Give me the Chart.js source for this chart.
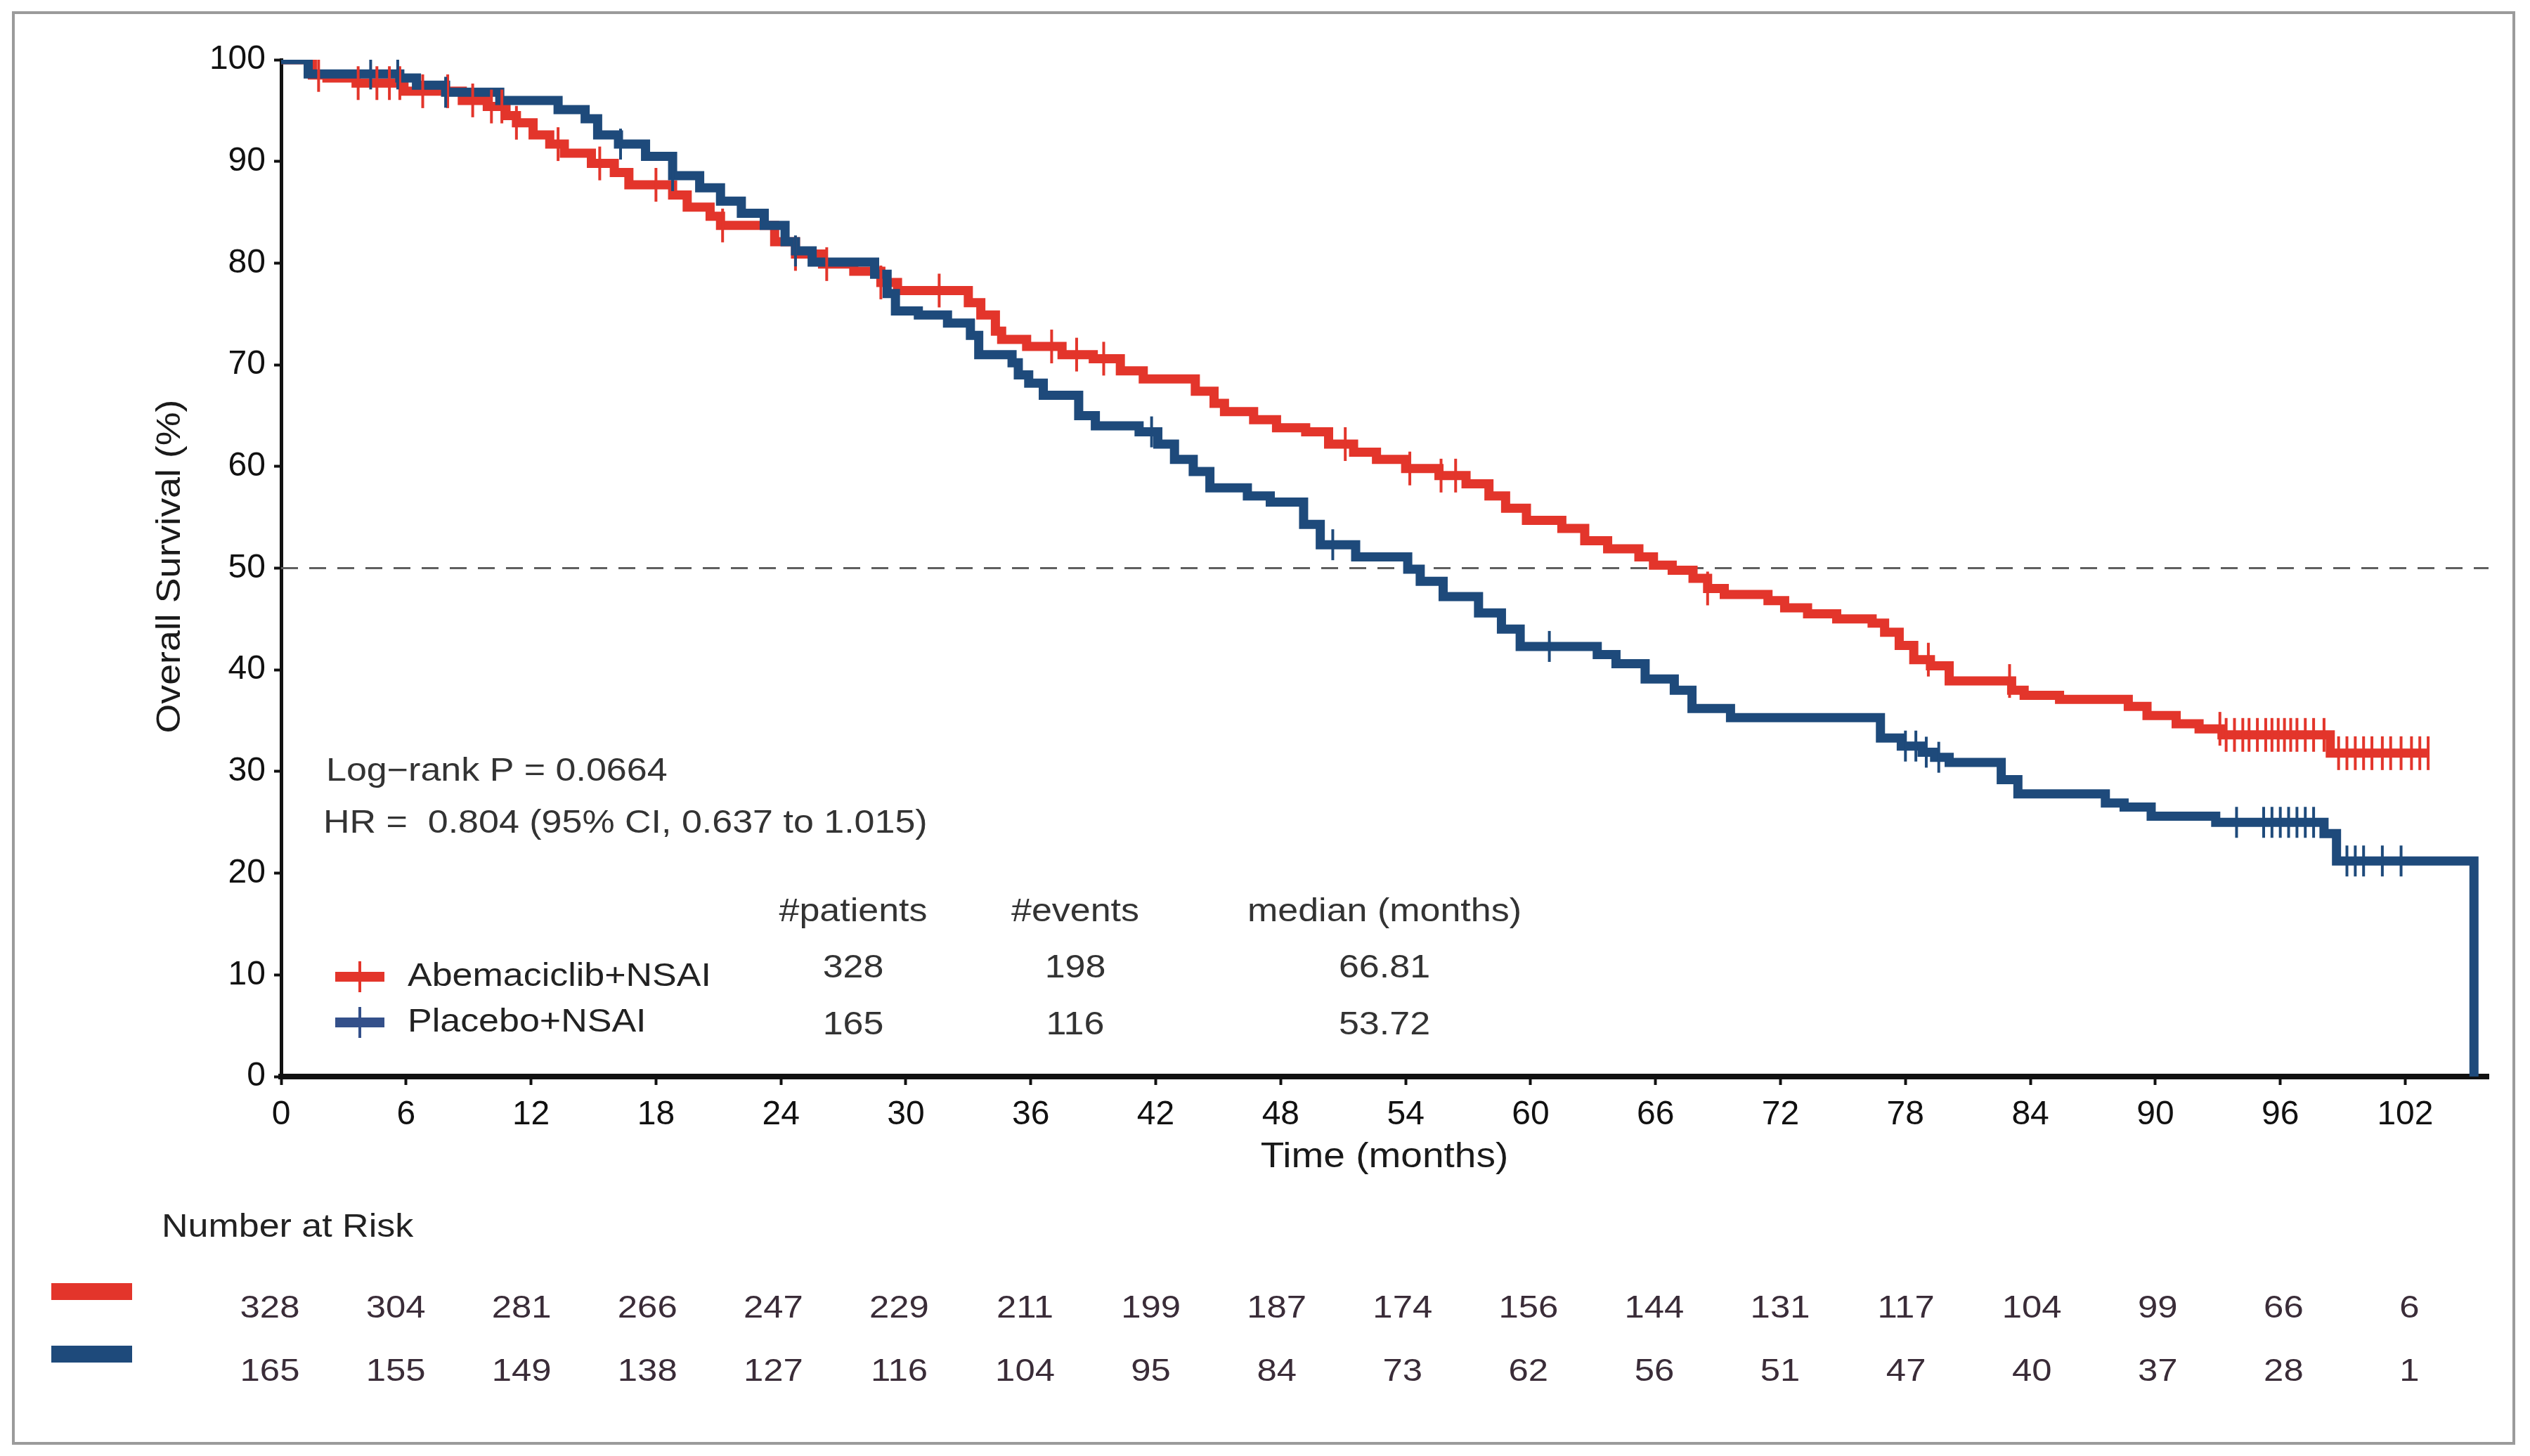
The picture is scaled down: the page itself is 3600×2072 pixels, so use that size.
<!DOCTYPE html>
<html>
<head>
<meta charset="utf-8">
<script src="https://cdn.jsdelivr.net/npm/chart.js@4.4.0/dist/chart.umd.min.js"></script>
<style>
  html, body { margin: 0; padding: 0; background: #fff; }
  #wrap { width: 3600px; height: 2072px; position: relative; }
</style>
</head>
<body>
<div id="wrap"><canvas id="km"></canvas></div>
<script>
// x axis ticks (months) and y axis ticks (%)
const xTicks = [0, 6, 12, 18, 24, 30, 36, 42, 48, 54, 60, 66, 72, 78, 84, 90, 96, 102];
const yTicks = [0, 10, 20, 30, 40, 50, 60, 70, 80, 90, 100];

// Abemaciclib+NSAI: step times and survival after each step
const abemaTime = [0, 1.5, 2.2, 3.6, 5.9, 8.7, 9.9, 10.8, 11.3, 12.1, 12.9, 13.6, 14.9, 16.0, 16.7, 18.8, 19.5, 20.6, 21.1, 23.7,
  24.7, 26.0, 27.5, 28.8, 29.6, 33.0, 33.6, 34.3, 34.6, 35.8, 37.5, 39.0, 40.3, 41.4, 43.9, 44.8, 45.3, 46.7, 47.8, 49.2,
  50.3, 51.5, 52.6, 54.0, 55.6, 56.9, 58.0, 58.8, 59.8, 61.5, 62.6, 63.7, 65.2, 65.9, 66.8, 67.8, 68.5, 69.3, 71.4, 72.2,
  73.3, 74.7, 76.4, 77.0, 77.7, 78.4, 79.2, 80.1, 83.1, 83.7, 85.4, 88.7, 89.6, 91.0, 92.1, 93.2, 98.4, 103.1];
const abemaSurv = [100, 98.5, 98.2, 97.7, 96.9, 96.0, 95.4, 94.5, 93.8, 92.6, 91.7, 90.8, 89.8, 88.9, 87.7, 86.7, 85.5, 84.6, 83.7, 82.1,
  80.9, 79.9, 79.2, 78.1, 77.3, 76.1, 74.9, 73.3, 72.5, 71.8, 71.0, 70.6, 69.4, 68.6, 67.4, 66.2, 65.4, 64.6, 63.8, 63.4,
  62.2, 61.4, 60.7, 59.8, 59.1, 58.3, 57.1, 55.9, 54.7, 53.9, 52.7, 51.9, 51.1, 50.3, 49.8, 49.0, 48.0, 47.4, 46.8, 46.1,
  45.5, 45.0, 44.6, 43.7, 42.4, 41.0, 40.4, 38.9, 38.0, 37.5, 37.1, 36.4, 35.5, 34.7, 34.2, 33.6, 31.8, 31.8];
const abemaCensor = [1.8, 3.7, 4.6, 5.2, 5.7, 6.8, 8.0, 9.2, 10.1, 10.6, 11.3, 13.3, 15.3, 18.0, 21.2, 24.7, 26.2, 28.8, 31.6,
  37.0, 38.2, 39.5, 51.1, 54.2, 55.7, 56.4, 68.5, 79.1, 83.0, 93.1, 93.4, 93.8, 94.2, 94.5, 94.9, 95.3, 95.6, 95.9, 96.2,
  96.5, 96.8, 97.2, 97.6, 98.1, 98.8, 99.2, 99.6, 100.0, 100.4, 100.9, 101.3, 101.8, 102.3, 102.7, 103.1];

// Placebo+NSAI
const placeboTime = [0, 1.3, 5.7, 6.5, 7.9, 10.5, 13.3, 14.6, 15.2, 16.2, 17.5, 18.8, 20.1, 21.1, 22.1, 23.2, 24.2, 24.7, 25.5, 28.5,
  29.1, 29.5, 30.6, 32.0, 33.1, 33.5, 35.1, 35.4, 35.9, 36.6, 38.3, 39.1, 41.2, 42.1, 42.9, 43.8, 44.6, 46.4, 47.5, 49.1,
  49.9, 51.6, 54.1, 54.7, 55.8, 57.5, 58.6, 59.5, 63.2, 64.1, 65.5, 66.9, 67.75, 69.6, 76.8, 77.8, 78.8, 79.4, 80.1, 82.6,
  83.4, 87.6, 88.5, 89.8, 92.9, 98.1, 98.7, 105.3];
const placeboSurv = [100, 98.6, 98.2, 97.5, 96.8, 96.0, 95.1, 94.2, 92.6, 91.7, 90.5, 88.6, 87.4, 86.1, 84.9, 83.7, 82.1, 81.2, 80.1, 78.9,
  77.0, 75.3, 74.9, 74.1, 72.9, 71.0, 70.2, 69.0, 68.2, 67.0, 65.0, 64.0, 63.4, 62.2, 60.7, 59.5, 57.9, 57.1, 56.5, 54.3,
  52.3, 51.1, 49.9, 48.7, 47.2, 45.6, 44.0, 42.3, 41.5, 40.6, 39.1, 38.0, 36.2, 35.3, 33.3, 32.5, 31.9, 31.4, 30.9, 29.2,
  27.8, 26.9, 26.5, 25.6, 25.0, 23.9, 21.2, 0];
const placeboCensor = [4.3, 5.6, 7.9, 16.3, 18.8, 24.7, 41.8, 50.5, 60.9, 78.0, 78.5, 79.0, 79.6, 93.9, 95.2, 95.6, 96.0,
  96.4, 96.8, 97.2, 97.6, 99.2, 99.6, 100.0, 100.9, 101.8];

// summary table and number at risk
const groupNames = ['Abemaciclib+NSAI', 'Placebo+NSAI'];
const nPatients = [328, 165];
const nEvents = [198, 116];
const medians = ['66.81', '53.72'];
const abemaRisk = [328, 304, 281, 266, 247, 229, 211, 199, 187, 174, 156, 144, 131, 117, 104, 99, 66, 6];
const placeboRisk = [165, 155, 149, 138, 127, 116, 104, 95, 84, 73, 62, 56, 51, 47, 40, 37, 28, 1];

const RED = '#E3352B';
const BLUE = '#1E4A7B';
const LEG_BLUE = '#34508A';
const FONT = '"Liberation Sans", Arial, sans-serif';

function toPoints(ts, ss) {
  return ts.map((t, i) => ({ x: t, y: ss[i] }));
}
// survival value of the step curve at time t
function survAt(ts, ss, t) {
  let v = ss[0];
  for (let i = 0; i < ts.length; i++) {
    if (ts[i] <= t) v = ss[i]; else break;
  }
  return v;
}
function censorPoints(cs, ts, ss) {
  return cs.map(t => ({ x: t, y: survAt(ts, ss, t) }));
}

function txt(ctx, s, x, y, size, align, color, sx) {
  ctx.save();
  ctx.font = size + 'px ' + FONT;
  ctx.fillStyle = color;
  ctx.textBaseline = 'middle';
  ctx.textAlign = align;
  ctx.translate(x, y);
  ctx.scale(sx || 1.12, 1);
  ctx.fillText(s, 0, 0);
  ctx.restore();
}

const decor = {
  id: 'decor',
  afterDraw(chart) {
    const ctx = chart.ctx;
    const xs = chart.scales.x;
    ctx.save();
    // outer frame
    ctx.strokeStyle = '#9b9b9b';
    ctx.lineWidth = 4;
    ctx.strokeRect(19, 18, 3558, 2036);

    // y axis title
    ctx.save();
    ctx.translate(243, 806);
    ctx.rotate(-Math.PI / 2);
    txt(ctx, 'Overall Survival (%)', 0, 0, 48, 'center', '#1a1a1a', 1.12);
    ctx.restore();

    // x axis title
    txt(ctx, 'Time (months)', 1970, 1647, 50, 'center', '#1a1a1a', 1.1);

    // test statistics
    txt(ctx, 'Log\u2212rank P = 0.0664', 464, 1098, 46, 'left', '#333', 1.13);
    txt(ctx, 'HR =  0.804 (95% CI, 0.637 to 1.015)', 460, 1172, 46, 'left', '#333', 1.13);

    // summary table
    const colX = [1214, 1530, 1970];
    txt(ctx, '#patients', colX[0], 1298, 46, 'center', '#333', 1.13);
    txt(ctx, '#events', colX[1], 1298, 46, 'center', '#333', 1.13);
    txt(ctx, 'median (months)', colX[2], 1298, 46, 'center', '#333', 1.13);
    const rowY = [1378, 1459];
    const legY = [1390, 1455];
    const legCol = [RED, LEG_BLUE];
    for (let g = 0; g < 2; g++) {
      ctx.fillStyle = legCol[g];
      ctx.fillRect(477, legY[g] - 7, 70, 14);
      ctx.strokeStyle = legCol[g];
      ctx.lineWidth = 4;
      ctx.beginPath();
      ctx.moveTo(512, legY[g] - 22);
      ctx.lineTo(512, legY[g] + 22);
      ctx.stroke();
      txt(ctx, groupNames[g], 580, legY[g], 46, 'left', '#222', 1.13);
      txt(ctx, String(nPatients[g]), colX[0], rowY[g], 46, 'center', '#333', 1.13);
      txt(ctx, String(nEvents[g]), colX[1], rowY[g], 46, 'center', '#333', 1.13);
      txt(ctx, medians[g], colX[2], rowY[g], 46, 'center', '#333', 1.13);
    }

    // number at risk
    txt(ctx, 'Number at Risk', 230, 1747, 46, 'left', '#222', 1.13);
    ctx.fillStyle = RED;
    ctx.fillRect(73, 1826, 115, 24);
    ctx.fillStyle = BLUE;
    ctx.fillRect(73, 1915, 115, 24);
    xTicks.forEach((v, i) => {
      const px = xs.getPixelForValue(v) - 16 + 22 * i / (xTicks.length - 1);
      txt(ctx, String(abemaRisk[i]), px, 1863, 45, 'center', '#3a2c38', 1.13);
      txt(ctx, String(placeboRisk[i]), px, 1953, 45, 'center', '#3a2c38', 1.13);
    });
    ctx.restore();
  }
};

new Chart(document.getElementById('km'), {
  type: 'scatter',
  data: {
    datasets: [
      {
        label: 'Placebo censored',
        data: censorPoints(placeboCensor, placeboTime, placeboSurv),
        pointStyle: 'line', rotation: 90, pointRadius: 22,
        borderColor: BLUE, borderWidth: 4, backgroundColor: BLUE
      },
      {
        label: 'Abemaciclib censored',
        data: censorPoints(abemaCensor, abemaTime, abemaSurv),
        pointStyle: 'line', rotation: 90, pointRadius: 24,
        borderColor: RED, borderWidth: 4, backgroundColor: RED
      },
      {
        label: groupNames[1],
        data: toPoints(placeboTime, placeboSurv),
        showLine: true, stepped: 'before', pointRadius: 0,
        borderColor: BLUE, borderWidth: 13, borderJoinStyle: 'miter', borderCapStyle: 'butt'
      },
      {
        label: groupNames[0],
        data: toPoints(abemaTime, abemaSurv),
        showLine: true, stepped: 'before', pointRadius: 0,
        borderColor: RED, borderWidth: 13, borderJoinStyle: 'miter', borderCapStyle: 'butt'
      },
      {
        label: 'median',
        data: [{ x: 0, y: 50 }, { x: 106, y: 50 }],
        showLine: true, pointRadius: 0,
        borderColor: '#5f5f5f', borderWidth: 3, borderDash: [24, 16]
      }
    ]
  },
  options: {
    responsive: true,
    maintainAspectRatio: false,
    animation: false,
    events: [],
    layout: { padding: { left: 0, right: 59, top: 85, bottom: 0 } },
    plugins: { legend: { display: false }, tooltip: { enabled: false }, title: { display: false } },
    scales: {
      x: {
        type: 'linear', min: 0, max: 106,
        afterBuildTicks: s => { s.ticks = xTicks.map(v => ({ value: v })); },
        afterFit: s => { s.height = 540; },
        ticks: { autoSkip: false, maxRotation: 0, padding: 14, color: '#111', font: { family: FONT, size: 48 } },
        grid: { display: true, drawOnChartArea: false, drawTicks: true, tickLength: 12, tickWidth: 4, color: '#111' },
        border: { display: true, color: '#111', width: 8 }
      },
      y: {
        type: 'linear', min: 0, max: 100,
        afterBuildTicks: s => { s.ticks = yTicks.map(v => ({ value: v })); },
        afterFit: s => { s.width = 400; },
        ticks: { padding: 12, color: '#111', font: { family: FONT, size: 48 } },
        grid: { display: true, drawOnChartArea: false, drawTicks: true, tickLength: 10, tickWidth: 4, color: '#111' },
        border: { display: true, color: '#111', width: 5 }
      }
    }
  },
  plugins: [decor]
});
</script>
</body>
</html>
